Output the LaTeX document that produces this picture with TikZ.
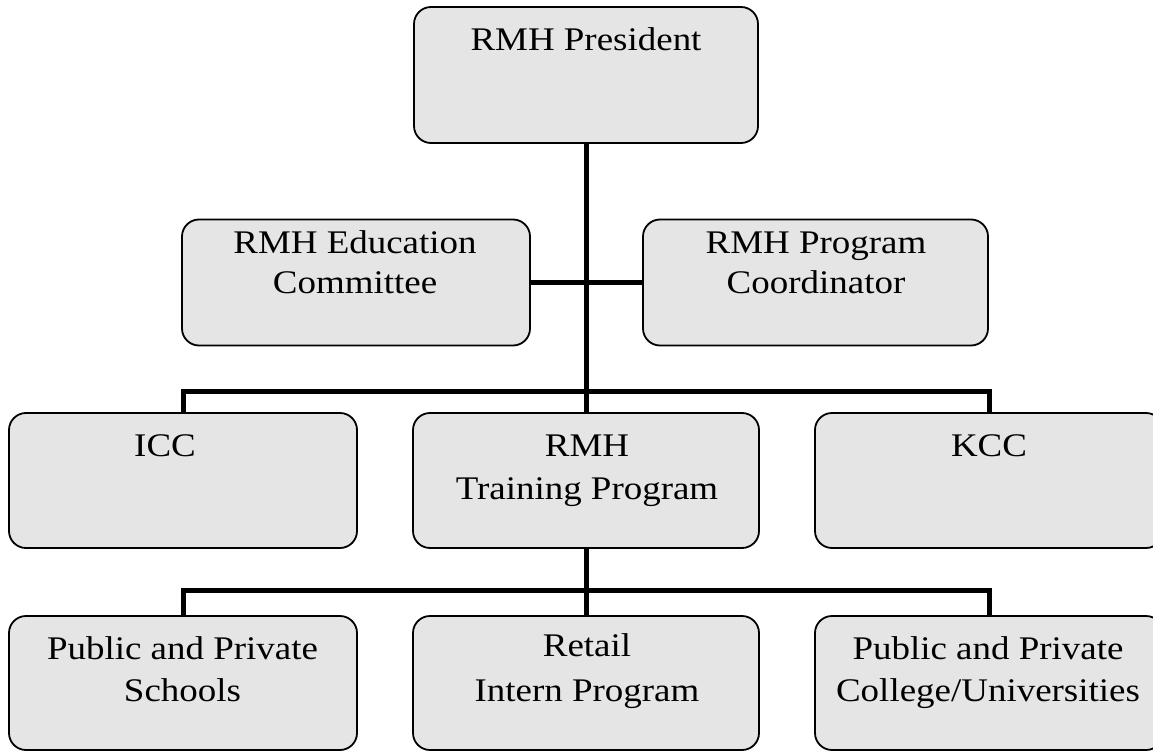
\documentclass[tikz,border=0pt]{standalone}
\usepackage{fontspec}
\setmainfont{Liberation Serif}[FakeStretch=1.12]
\begin{document}
\begin{tikzpicture}[x=1pt,y=-1pt,
  box/.style={draw=black, line width=1.8pt, rounded corners=17pt,
    fill=black!10, minimum width=346pt, inner sep=0pt},
  rowtop/.style={box, minimum height=126pt},
  rowmid/.style={box, minimum height=135pt},
  label/.style={anchor=base, align=center, inner sep=0pt,
    font=\fontsize{33}{43}\selectfont},
  tight/.style={label, font=\fontsize{33}{40}\selectfont},
  link/.style={line width=5pt, line join=miter}]
\clip (0,0) rectangle (1153,751);
\fill[white] (0,0) rectangle (1153,751);

% boxes
\node[box, minimum width=344pt, minimum height=136pt] (pres) at (586,75) {};
\node[rowtop, minimum width=348pt] (edu)   at (356,282.5) {};
\node[rowtop, minimum width=345pt] (coord) at (815.5,282.5) {};
\node[rowmid, minimum width=348pt] (icc)   at (183,480.5) {};
\node[rowmid] (train) at (586,480.5) {};
\node[rowmid, minimum width=348pt] (kcc)   at (989,480.5) {};
\node[rowmid, minimum width=348pt, minimum height=134pt] (schools)  at (183,683) {};
\node[rowmid, minimum height=134pt] (retail)   at (586,683) {};
\node[rowmid, minimum width=348pt, minimum height=134pt] (colleges) at (989,683) {};

% labels, placed by the baseline of their last line
\node[label] (presT)  at (586,51)  {RMH President};
\node[tight] (eduT)   at (355,294) {RMH Education\\Committee};
\node[tight] (coordT) at (816,294) {RMH Program\\Coordinator};
\node[label] (iccT)   at (165,456) {ICC};
\node[label] (trainT) at (587,499) {RMH\\Training Program};
\node[label] (kccT)   at (989,456) {KCC};
\node[label, font=\fontsize{33}{42}\selectfont] (schoolsT) at (182.5,701) {Public and Private\\Schools};
\node[label, font=\fontsize{33}{45}\selectfont] (retailT)  at (587,701) {Retail\\Intern Program};
\node[label, font=\fontsize{33}{42}\selectfont] (collegesT) at (988,701) {Public and Private\\College/Universities};

% connectors
\coordinate (barA) at (586,391);
\coordinate (barB) at (586,590);
\draw[link] (pres.south) -- (train.north);
\draw[link] (edu.east) -- (coord.west);
\draw[link] (icc.north) |- (barA) -| (kcc.north);
\draw[link] (train.south) -- (retail.north);
\draw[link] (schools.north) |- (barB) -| (colleges.north);
\end{tikzpicture}
\end{document}
